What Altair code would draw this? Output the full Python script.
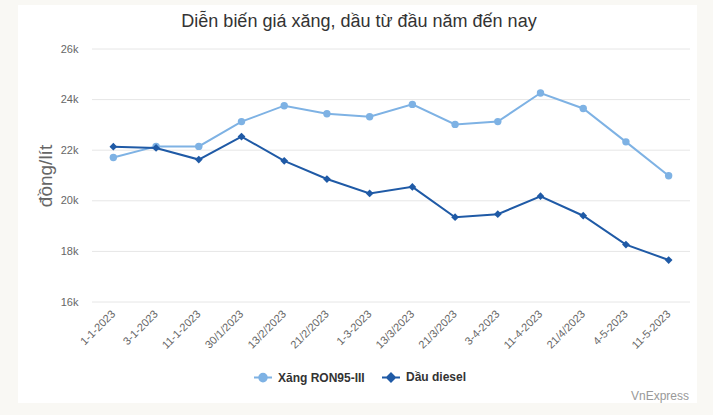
import altair as alt
import pandas as pd

dates = ["1-1-2023", "3-1-2023", "11-1-2023", "30/1/2023", "13/2/2023", "21/2/2023",
         "1-3-2023", "13/3/2023", "21/3/2023", "3-4-2023", "11-4-2023", "21/4/2023",
         "4-5-2023", "11-5-2023"]
xang = [21710, 22150, 22150, 23130, 23760, 23440, 23320, 23810, 23020, 23130,
        24260, 23650, 22330, 20990]
diesel = [22140, 22090, 21630, 22540, 21580, 20860, 20290, 20550, 19350, 19470,
          20180, 19410, 18270, 17660]
series = ["Xăng RON95-III", "Dầu diesel"]
colors = ["#7eb2e4", "#1f5aa6"]
y_ticks = [16000, 18000, 20000, 22000, 24000, 26000]
title_text = "Diễn biến giá xăng, dầu từ đầu năm đến nay"
credit_text = "VnExpress"

rows = []
for name, vals in zip(series, [xang, diesel]):
    for d, v in zip(dates, vals):
        rows.append({"date": d, "series": name, "price": v})
df = pd.DataFrame(rows)
grid_df = pd.DataFrame({"price": y_ticks})

FONT = "Liberation Sans"

circle_path = "M-1,0L1,0M-0.42,0A0.42,0.42 0 1,0 0.42,0A0.42,0.42 0 1,0 -0.42,0Z"
diamond_path = "M-1,0L1,0M0,-0.45L0.45,0L0,0.45L-0.45,0Z"

legend = alt.Legend(
    title=None, orient="none", direction="horizontal", legendX=161, legendY=318,
    labelFont=FONT, labelFontSize=12, labelFontWeight="bold", labelColor="#333333",
    symbolSize=324, symbolStrokeWidth=2, symbolOpacity=1, labelOffset=5,
    columnPadding=13, padding=0, zindex=2,
)

x_enc = alt.X("date:N", sort=dates, scale=alt.Scale(type="point", padding=0.5),
              axis=alt.Axis(title=None, labelAngle=-45, labelAlign="right",
                            labelBaseline="middle", labelFont=FONT, labelFontSize=11,
                            labelColor="#666666", ticks=False, domain=False,
                            labelPadding=10, grid=False, zindex=1))
y_scale = alt.Scale(domain=[16000, 26000], nice=False, zero=False)
y_enc = alt.Y("price:Q", scale=y_scale,
              axis=alt.Axis(title="đồng/lít", values=y_ticks, format="~s",
                            labelFont=FONT, labelFontSize=11, labelColor="#666666",
                            ticks=False, domain=False, labelPadding=14, grid=False,
                            titleFont=FONT, titleFontSize=19, titleFontWeight="normal",
                            titleColor="#666666", titlePadding=5, zindex=1))

one = alt.Data(values=[{"k": 1}])

card = alt.Chart(one).mark_rect(color="white").encode(
    x=alt.value(-74), x2=alt.value(605), y=alt.value(-44), y2=alt.value(354))

grid = alt.Chart(grid_df).mark_rule(color="#e6e6e6", strokeWidth=1).encode(
    y=alt.Y("price:Q", scale=y_scale), x=alt.value(0), x2=alt.value(598))

layers = [card, grid]
for name, col, shp, sz in zip(series, colors, ["circle", "diamond"], [55, 60]):
    base = alt.Chart(df).transform_filter(alt.datum.series == name)
    layers.append(base.mark_line(strokeWidth=2, color=col).encode(x=x_enc, y=y_enc))
    layers.append(base.mark_point(filled=True, opacity=1, shape=shp, size=sz, color=col)
                  .encode(x=x_enc, y=y_enc))

legend_layer = alt.Chart(df).transform_filter("false").mark_point(filled=True).encode(
    shape=alt.Shape("series:N", sort=series,
                    scale=alt.Scale(domain=series, range=[circle_path, diamond_path]),
                    legend=legend),
    fill=alt.Fill("series:N", sort=series, scale=alt.Scale(domain=series, range=colors),
                  legend=legend),
    stroke=alt.Stroke("series:N", sort=series, scale=alt.Scale(domain=series, range=colors),
                      legend=legend),
)

title = alt.Chart(one).mark_text(
    align="center", baseline="middle", font=FONT, fontSize=18, color="#333333").encode(
    x=alt.value(267), y=alt.value(-27), text=alt.value(title_text))

credit = alt.Chart(one).mark_text(
    align="right", baseline="middle", font=FONT, fontSize=12, color="#999999").encode(
    x=alt.value(597), y=alt.value(347), text=alt.value(credit_text))

chart = alt.layer(*layers, legend_layer, title, credit).properties(
    width=598, height=253,
    padding={"left": 92, "top": 49, "right": 23, "bottom": 113},
    autosize=alt.AutoSizeParams(type="none"),
    background="#f9f8f4",
).configure_view(stroke=None)

chart.save("out.html", embed_options={"renderer": "svg", "actions": False})
